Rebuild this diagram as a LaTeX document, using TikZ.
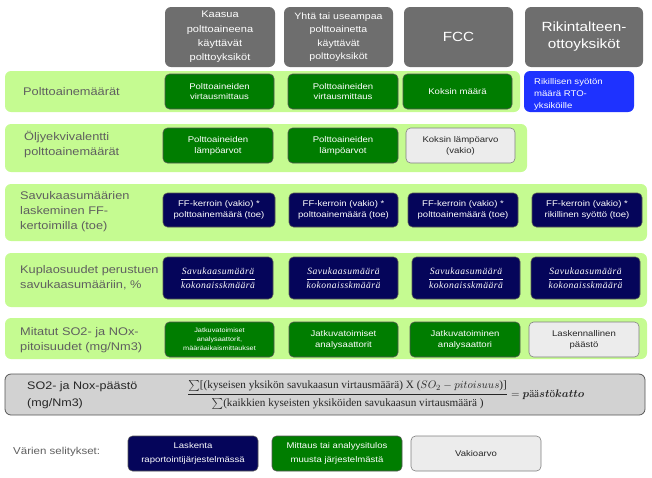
\documentclass[tikz,border=0pt]{standalone}
\usepackage{fontspec}
\usepackage{amsmath}
\usepackage{graphicx}
\setmainfont{Liberation Sans}[FakeStretch=1.15]
\newfontfamily\serf{Liberation Serif}
\newfontfamily\serfsp{Liberation Serif}[LetterSpace=5]
\definecolor{bandgreen}{RGB}{197,251,145}
\definecolor{dgreen}{RGB}{0,125,0}
\definecolor{navyb}{RGB}{5,5,90}
\definecolor{hdrgray}{RGB}{110,110,110}
\definecolor{lgrayb}{RGB}{236,236,236}
\definecolor{fgray}{RGB}{210,210,210}
\definecolor{bdr}{RGB}{85,85,85}
\definecolor{labgray}{RGB}{95,95,95}
\definecolor{blueb}{RGB}{30,50,255}
\newcommand\fin{\fontsize{8.3}{10.7}\selectfont}
\newcommand\flab{\fontsize{11.1}{15}\selectfont}
\newcommand\skfrac{$\dfrac{\text{\itshape Savukaasumäärä}}{\text{\itshape kokonaisskmäärä}}$}
\begin{document}
\begin{tikzpicture}[x=1pt,y=-1pt,
  hdr/.style={fill=hdrgray, rounded corners=6pt, text=white, align=center, inner sep=0pt, minimum height=60pt},
  band/.style={fill=bandgreen, rounded corners=6pt, inner sep=0pt},
  ibox/.style={rounded corners=4.5pt, inner sep=1pt, align=center, font=\fin, draw=bdr, line width=0.6pt},
  gbx/.style={ibox, fill=dgreen, text=white},
  nbx/.style={ibox, fill=navyb, text=white},
  fbx/.style={nbx, minimum height=42pt, font=\serfsp\fontsize{9.6}{11}\selectfont},
  vbx/.style={ibox, fill=lgrayb, text=black!85, draw=gray},
  rowlab/.style={anchor=west, align=left, text=labgray, font=\flab, inner sep=0pt},
  legbx/.style={ibox, font=\fontsize{8.3}{14}\selectfont, minimum width=130pt, minimum height=35pt}
]
\useasboundingbox (0,0) rectangle (652,477);

% headers
\node[hdr, minimum width=110pt, font=\fontsize{9.6}{14.3}\selectfont] (h1) at (220,37) {Kaasua\\polttoaineena\\käyttävät\\polttoyksiköt};
\node[hdr, minimum width=109pt, font=\fontsize{9.2}{13.3}\selectfont] (h2) at (338.5,37) {Yhtä tai useampaa\\polttoainetta\\käyttävät\\polttoyksiköt};
\node[hdr, minimum width=109pt, font=\fontsize{13.3}{17}\selectfont] (h3) at (458.5,37) {FCC};
\node[hdr, minimum width=118pt, font=\fontsize{13.3}{17}\selectfont] (h4) at (584,37) {Rikintalteen-\\ottoyksiköt};

% row 1
\node[band, minimum width=515pt, minimum height=41pt] (r1) at (262.5,91.5) {};
\node[rowlab] (l1) at (23,91.5) {Polttoainemäärät};
\node[gbx, minimum width=109pt, minimum height=35pt] (b11) at (219.5,91.5) {Polttoaineiden\\virtausmittaus};
\node[gbx, minimum width=110pt, minimum height=35pt] (b12) at (343,91.5) {Polttoaineiden\\virtausmittaus};
\node[gbx, minimum width=109pt, minimum height=35pt] (b13) at (457.5,91.5) {Koksin määrä};
\node[fill=blueb, rounded corners=6pt, inner sep=0pt, minimum width=110pt, minimum height=41pt] (b14) at (579,91.5) {};
\node[anchor=west, align=left, text=white, font=\fontsize{8.3}{12}\selectfont, inner sep=0pt] (b14t) at (534,94) {Rikillisen syötön\\määrä RTO-\\yksiköille};

% row 2
\node[band, minimum width=522pt, minimum height=48pt] (r2) at (266,148) {};
\node[rowlab] (l2) at (24,145) {Öljyekvivalentti\\polttoainemäärät};
\node[gbx, minimum width=110pt, minimum height=35pt] (b21) at (218,145.5) {Polttoaineiden\\lämpöarvot};
\node[gbx, minimum width=110pt, minimum height=35pt] (b22) at (343,145.5) {Polttoaineiden\\lämpöarvot};
\node[vbx, minimum width=109pt, minimum height=35pt] (b23) at (460.5,145.5) {Koksin lämpöarvo\\(vakio)};

% row 3
\node[band, minimum width=642pt, minimum height=57pt] (r3) at (326,212.5) {};
\node[rowlab] (l3) at (20,212) {Savukaasumäärien\\laskeminen FF-\\kertoimilla (toe)};
\node[nbx, minimum width=112pt, minimum height=34pt] (b31) at (219,210) {FF-kerroin (vakio) *\\polttoainemäärä (toe)};
\node[nbx, minimum width=109pt, minimum height=34pt] (b32) at (343.5,210) {FF-kerroin (vakio) *\\polttoainemäärä (toe)};
\node[nbx, minimum width=110pt, minimum height=34pt] (b33) at (463,210) {FF-kerroin (vakio) *\\polttoainemäärä (toe)};
\node[nbx, minimum width=110pt, minimum height=34pt] (b34) at (587,210) {FF-kerroin (vakio) *\\rikillinen syöttö (toe)};

% row 4
\node[band, minimum width=642pt, minimum height=54pt] (r4) at (326,280) {};
\node[rowlab] (l4) at (20,277.5) {Kuplaosuudet perustuen\\savukaasumääriin, \%};
\node[fbx, minimum width=110pt] (b41) at (218,278) {\skfrac};
\node[fbx, minimum width=109pt] (b42) at (343.5,278) {\skfrac};
\node[fbx, minimum width=108pt] (b43) at (466,278) {\skfrac};
\node[fbx, minimum width=109pt] (b44) at (585.5,278) {\skfrac};

% row 5
\node[band, minimum width=642pt, minimum height=41pt] (r5) at (326,338.5) {};
\node[rowlab] (l5) at (20,340) {Mitatut SO2- ja NOx-\\pitoisuudet (mg/Nm3)};
\node[gbx, minimum width=109pt, minimum height=35pt, font=\fontsize{6.35}{9}\selectfont] (b51) at (219.5,339.5) {Jatkuvatoimiset\\analysaattorit,\\määräaikaismittaukset};
\node[gbx, minimum width=109pt, minimum height=35pt] (b52) at (343.5,339.5) {Jatkuvatoimiset\\analysaattorit};
\node[gbx, minimum width=110pt, minimum height=35pt] (b53) at (465,339.5) {Jatkuvatoiminen\\analysaattori};
\node[vbx, minimum width=110pt, minimum height=35pt] (b54) at (584,339.5) {Laskennallinen\\päästö};

% row 6
\node[fill=fgray, draw=bdr, line width=0.8pt, rounded corners=6pt, inner sep=0pt, minimum width=640pt, minimum height=41pt] (r6) at (325,394.5) {};
\node[anchor=west, align=left, inner sep=0pt, text=black!85, font=\fontsize{10.9}{17}\selectfont] (l6) at (27,395.5) {SO2- ja Nox-päästö\\(mg/Nm3)};
\node[anchor=west, inner sep=0pt, text=black!85, font=\serf\fontsize{11.2}{13}\selectfont] (form) at (187,395)
 {$\dfrac{\rule[-4pt]{0pt}{1pt}\text{$\textstyle\sum$[(kyseisen yksikön savukaasun virtausmäärä) X (}SO_2-pitoisuus\text{)]}}{\rule{0pt}{10.5pt}\text{$\textstyle\sum$(kaikkien kyseisten yksiköiden savukaasun virtausmäärä )}} = \boldsymbol{p}\text{ää}\boldsymbol{st}\text{ö}\boldsymbol{katto}$};

% legend
\node[anchor=west, inner sep=0pt, text=labgray, font=\fontsize{10}{12}\selectfont] (leg) at (13,452) {Värien selitykset:};
\node[legbx, fill=navyb, text=white] (lg1) at (193,453.5) {Laskenta\\raportointijärjestelmässä};
\node[legbx, fill=dgreen, text=white] (lg2) at (337,453.5) {Mittaus tai analyysitulos\\muusta järjestelmästä};
\node[legbx, fill=lgrayb, text=black!85, draw=gray] (lg3) at (476,453.5) {Vakioarvo};
\end{tikzpicture}
\end{document}
